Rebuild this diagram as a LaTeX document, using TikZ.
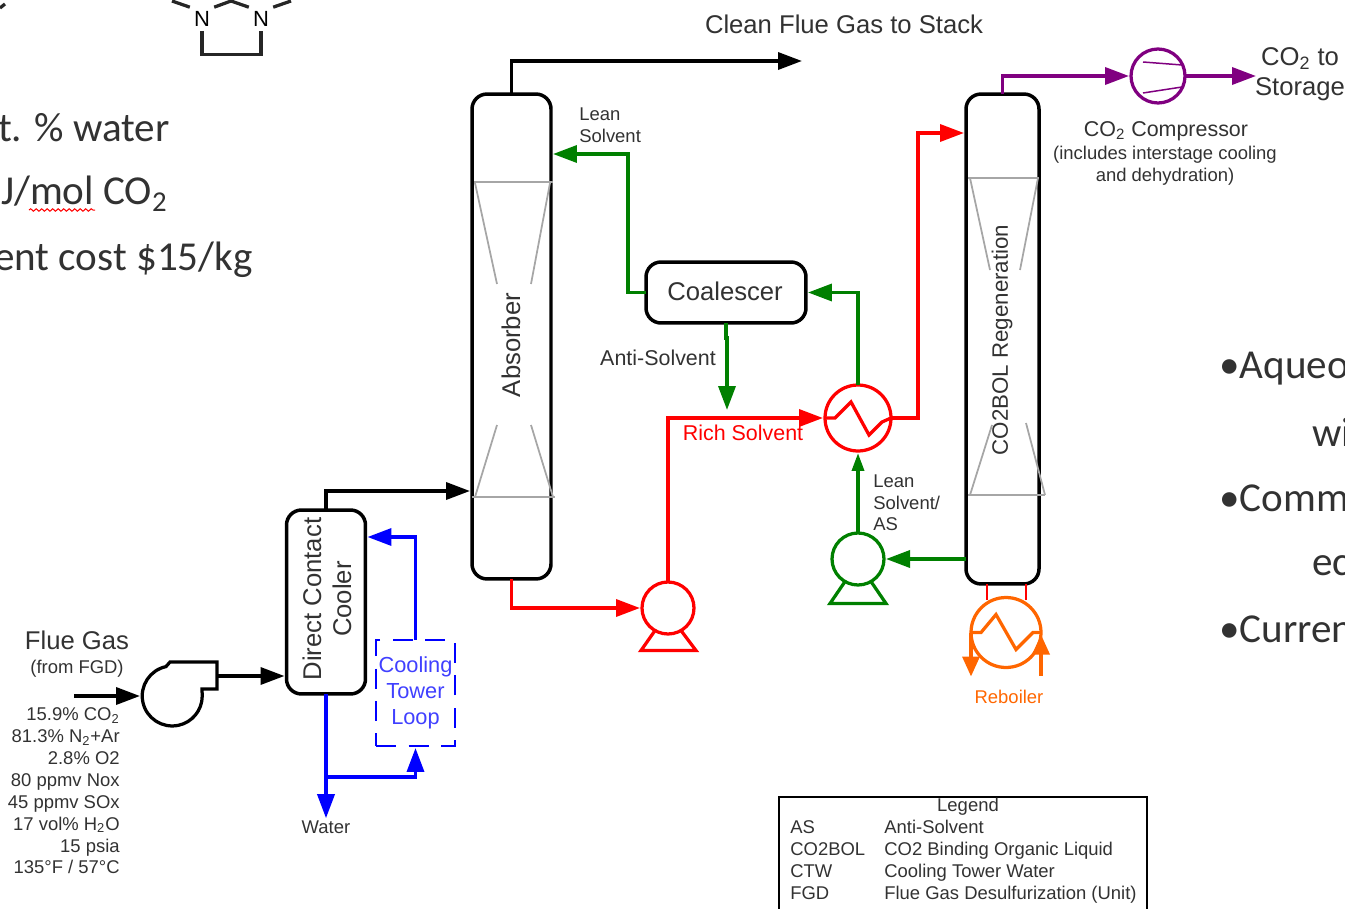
\documentclass[tikz,border=0pt]{standalone}
\usepackage{fontspec}
\setmainfont{Liberation Sans}
\newfontfamily\slidefont{Carlito}
\usetikzlibrary{arrows.meta,calc,decorations.pathmorphing}

\definecolor{leanGreen}{RGB}{0,128,0}
\definecolor{co2Purple}{RGB}{128,0,128}
\definecolor{heatOrange}{RGB}{255,102,0}
\definecolor{inkGray}{RGB}{50,50,50}

\tikzset{
  bigtxt/.style={text=inkGray,inner sep=0pt,align=center,font=\fontsize{14.6}{17}\selectfont},
  midtxt/.style={text=inkGray,inner sep=0pt,align=center,font=\fontsize{12.2}{14.8}\selectfont},
  smalltxt/.style={text=inkGray,inner sep=0pt,font=\fontsize{10.5}{12.5}\selectfont},
  slidetxt/.style={text=inkGray,inner sep=0pt,font=\slidefont\fontsize{23.4}{26}\selectfont},
  column/.style={draw,line width=0.07cm,rounded corners=0.3cm,inner sep=0pt,outer sep=0pt,minimum width=1.58cm},
  unitround/.style={draw,circle,line width=0.065cm,inner sep=0pt,outer sep=0pt},
  coil/.style={line width=0.065cm},
  flow/.style={line width=0.07cm,-{Triangle[length=0.48cm,width=0.34cm]},shorten >=0.04cm},
  narrowflow/.style={line width=0.07cm,-{Triangle[length=0.36cm,width=0.24cm]},shorten >=0.04cm},
  shortflow/.style={line width=0.07cm,-{Triangle[length=0.4cm,width=0.34cm]},shorten >=0.04cm},
  packing/.style={draw=gray!70,line width=0.035cm},
}

\begin{document}
\begin{tikzpicture}[x=0.02cm,y=-0.02cm]
\useasboundingbox (0,0) rectangle (1345,909);

\begin{scope}
  \node[slidetxt,anchor=east] (slideWater) at (170,128) {t. \% water};
  \node[slidetxt,anchor=east] (slideHeat) at (168,194) {J/mol CO\textsubscript{2}};
  \node[slidetxt,anchor=east] (slideCost) at (253,260) {ent cost \$15/kg};
  \draw[red,line width=0.02cm,decorate,decoration={snake,amplitude=0.025cm,segment length=0.11cm}] (29,210) -- (95,210);
  \node[slidetxt,anchor=west] (slideAqueous) at (1219,369) {•Aqueo};
  \node[slidetxt,anchor=west] (slideWi) at (1312,432) {wi};
  \node[slidetxt,anchor=west] (slideComm) at (1219,498) {•Comm};
  \node[slidetxt,anchor=west] (slideEc) at (1312,566) {ec};
  \node[slidetxt,anchor=west] (slideCurrent) at (1219,629) {•Curren};
\end{scope}

\begin{scope}[line width=0.065cm,draw=black!85]
  \node[inner sep=1.5pt,font=\fontsize{12.5}{14}\selectfont] (nLeft) at (202,19) {N};
  \node[inner sep=1.5pt,font=\fontsize{12.5}{14}\selectfont] (nRight) at (261,19) {N};
  \coordinate (apex) at (231,1);
  \coordinate (methylLeft) at (172,1);
  \coordinate (methylRight) at (291,1);
  \draw (nLeft.north east) -- (apex) -- (nRight.north west);
  \draw (methylLeft) -- (nLeft.north west);
  \draw (methylRight) -- (nRight.north east);
  \draw (nLeft.south) -- ++(0,24) -| (nRight.south);
  \draw (0,8) -- (5,4);
\end{scope}

\node[column,minimum height=9.7cm] (absorber) at (511.5,336.5) {};
\node[bigtxt,rotate=90] (absorberLabel) at (511,345) {Absorber};
\draw[packing] (474,182) -- (553,182);
\draw[packing] (475,183) -- (497,284);
\draw[packing] (550,183) -- (531,284);
\draw[packing] (472,497) -- (555,497);
\draw[packing] (475,497) -- (497,425);
\draw[packing] (553,497) -- (531,425);

\node[column,minimum width=1.46cm,minimum height=9.8cm] (regen) at (1002.5,339) {};
\node[midtxt,rotate=90,font=\fontsize{12.7}{15}\selectfont] (regenLabel) at (1002,340) {CO2BOL Regeneration};
\draw[packing] (968,178) -- (1039,178);
\draw[packing] (970,178) -- (990,270);
\draw[packing] (1038,178) -- (1020,270);
\draw[packing] (968,495) -- (1045,495);
\draw[packing] (970,495) -- (992,425);
\draw[packing] (1045,495) -- (1026,423);

\node[column,minimum width=3.2cm,minimum height=1.22cm] (coalescer) at (726,292.5) {};
\node[bigtxt] (coalescerLabel) at (725,291) {Coalescer};

\node[column,minimum height=3.68cm] (dcc) at (326,602) {};
\node[bigtxt,rotate=90] (dccLabel) at (327,599) {Direct Contact\\Cooler};

\node[draw=blue,dashed,line width=0.035cm,dash pattern=on 0.4cm off 0.25cm,minimum width=1.58cm,minimum height=2.12cm,inner sep=0pt,outer sep=0pt,text=blue!75!white,align=center,font=\fontsize{12.4}{14.8}\selectfont] (tower) at (415.5,693) {Cooling\\Tower\\Loop};

\node[unitround,minimum size=1.2cm,draw=none] (blower) at (172,696) {};
\draw[line width=0.065cm] (202,689) -- (217,689) -- (217,662) -- (170,662) -- (166,666.6) arc (258:0:30) -- cycle;
\coordinate (blowerOut) at (217,676);
\coordinate (flueIn) at (74,696);

\node[unitround,draw=red,minimum size=1.04cm] (pumpRed) at (668,608) {};
\draw[red,coil] (pumpRed.240) -- ++(-14,20) -- ++(55,0) -- (pumpRed.300);
\node[unitround,draw=leanGreen,minimum size=1.04cm] (pumpGreen) at (858,559) {};
\draw[leanGreen,coil] (pumpGreen.240) -- ++(-15,22) -- ++(56,0) -- (pumpGreen.300);

\node[unitround,draw=red,minimum size=1.32cm] (hxRich) at (858,418) {};
\draw[red,coil] (hxRich.west) -- ++(10,0) -- ++(16,-16) -- ++(18,33) -- ++(13,-13) -- (hxRich.east);

\node[unitround,draw=heatOrange,minimum size=1.4cm] (reboiler) at (1006,632.5) {};
\draw[heatOrange,coil] (reboiler.west) -- ++(10,0) -- ++(15,-18) -- ++(20,35) -- ++(17,-17) -- (reboiler.east);
\draw[red,line width=0.03cm] (987,584) -- (987,600);
\draw[red,line width=0.03cm] (1026,584) -- (1026,600);

\node[unitround,draw=co2Purple,minimum size=1.08cm] (compressor) at (1158,76) {};
\draw[co2Purple,line width=0.03cm] (1143,62) -- (1182,65);
\draw[co2Purple,line width=0.03cm] (1143,93) -- (1182,87);

\node[smalltxt] (water) at (326,827) {Water};
\node[bigtxt] (stackLabel) at (844,24) {Clean Flue Gas to Stack};
\coordinate (stack) at (804,61);
\coordinate (storage) at (1258,76);
\coordinate (antiEnd) at (727,412);
\coordinate (rebIn) at (reboiler.east |- 0,676);

\draw[flow] (flueIn) -- (blower.west);
\draw[flow] (blowerOut) -- (dcc.west |- blowerOut);
\draw[flow] (dcc.north) |- (absorber.west |- 0,491);
\draw[flow] (absorber.north) |- (stack);

\draw[flow,blue] (dcc.south) -- (water.north);
\draw[flow,blue] (dcc.south |- 0,777) -| (tower.south);
\draw[flow,blue] (tower.north) |- (dcc.east |- 0,537);

\draw[flow,red] (absorber.south) |- (pumpRed.west);
\draw[flow,red] (pumpRed.north) |- (hxRich.west);
\draw[flow,red] (hxRich.east) -- ++(27,0) |- (regen.west |- 0,133);

\draw[flow,leanGreen] (regen.west |- pumpGreen) -- (pumpGreen.east);
\draw[narrowflow,leanGreen] (pumpGreen.north) -- (hxRich.south);
\draw[flow,leanGreen] (hxRich.north) |- (coalescer.east);
\draw[flow,leanGreen] (coalescer.west) -- ++(-18,0) |- (absorber.east |- 0,154);
\draw[flow,leanGreen] (coalescer.south) -- ++(0,15) -| (antiEnd);

\draw[flow,co2Purple] (regen.north) |- (compressor.west);
\draw[flow,co2Purple] (compressor.east) -- (storage);

\draw[shortflow,heatOrange] (reboiler.west) -- ++(0,46);
\draw[shortflow,heatOrange] (rebIn) -- (reboiler.east);

\node[bigtxt] (flueLabel) at (77,640) {Flue Gas};
\node[smalltxt] (flueSource) at (77,669) {(from FGD)};
\node[smalltxt,align=right,anchor=north east] (flueData) at (120,707) {15.9\% CO\textsubscript{2}\\81.3\% N\textsubscript{2}+Ar\\2.8\% O2\\80 ppmv Nox\\45 ppmv SOx\\17 vol\% H\textsubscript{2}O\\15 psia\\135°F / 57°C};
\node[smalltxt,align=left,anchor=north west] (leanLabel) at (579,107) {Lean\\Solvent};
\node[midtxt] (antiLabel) at (658,358) {Anti-Solvent};
\node[midtxt,text=red] (richLabel) at (743,433) {Rich Solvent};
\node[smalltxt,align=left,anchor=north west] (leanAsLabel) at (873,474) {Lean\\Solvent/\\AS};
\node[smalltxt,text=heatOrange] (reboilerLabel) at (1009,697) {Reboiler};
\node[bigtxt] (storageLabel) at (1300,74) {CO\textsubscript{2} to\\Storage};
\node[midtxt] (compressorLabel) at (1166,131) {CO\textsubscript{2} Compressor};
\node[smalltxt,align=center,anchor=north] (compressorNote) at (1165,146) {(includes interstage cooling\\and dehydration)};

\begin{scope}
  \draw[line width=0.03cm] (779,909) -- (779,797) -- (1147,797) -- (1147,909);
  \node[smalltxt] (legendTitle) at (968,807) {Legend};
  \node[smalltxt,align=left,anchor=north west] (legendKeys) at (790,820) {AS\\CO2BOL\\CTW\\FGD};
  \node[smalltxt,align=left,anchor=north west] (legendNames) at (884,820) {Anti-Solvent\\CO2 Binding Organic Liquid\\Cooling Tower Water\\Flue Gas Desulfurization (Unit)};
\end{scope}
\end{tikzpicture}
\end{document}
